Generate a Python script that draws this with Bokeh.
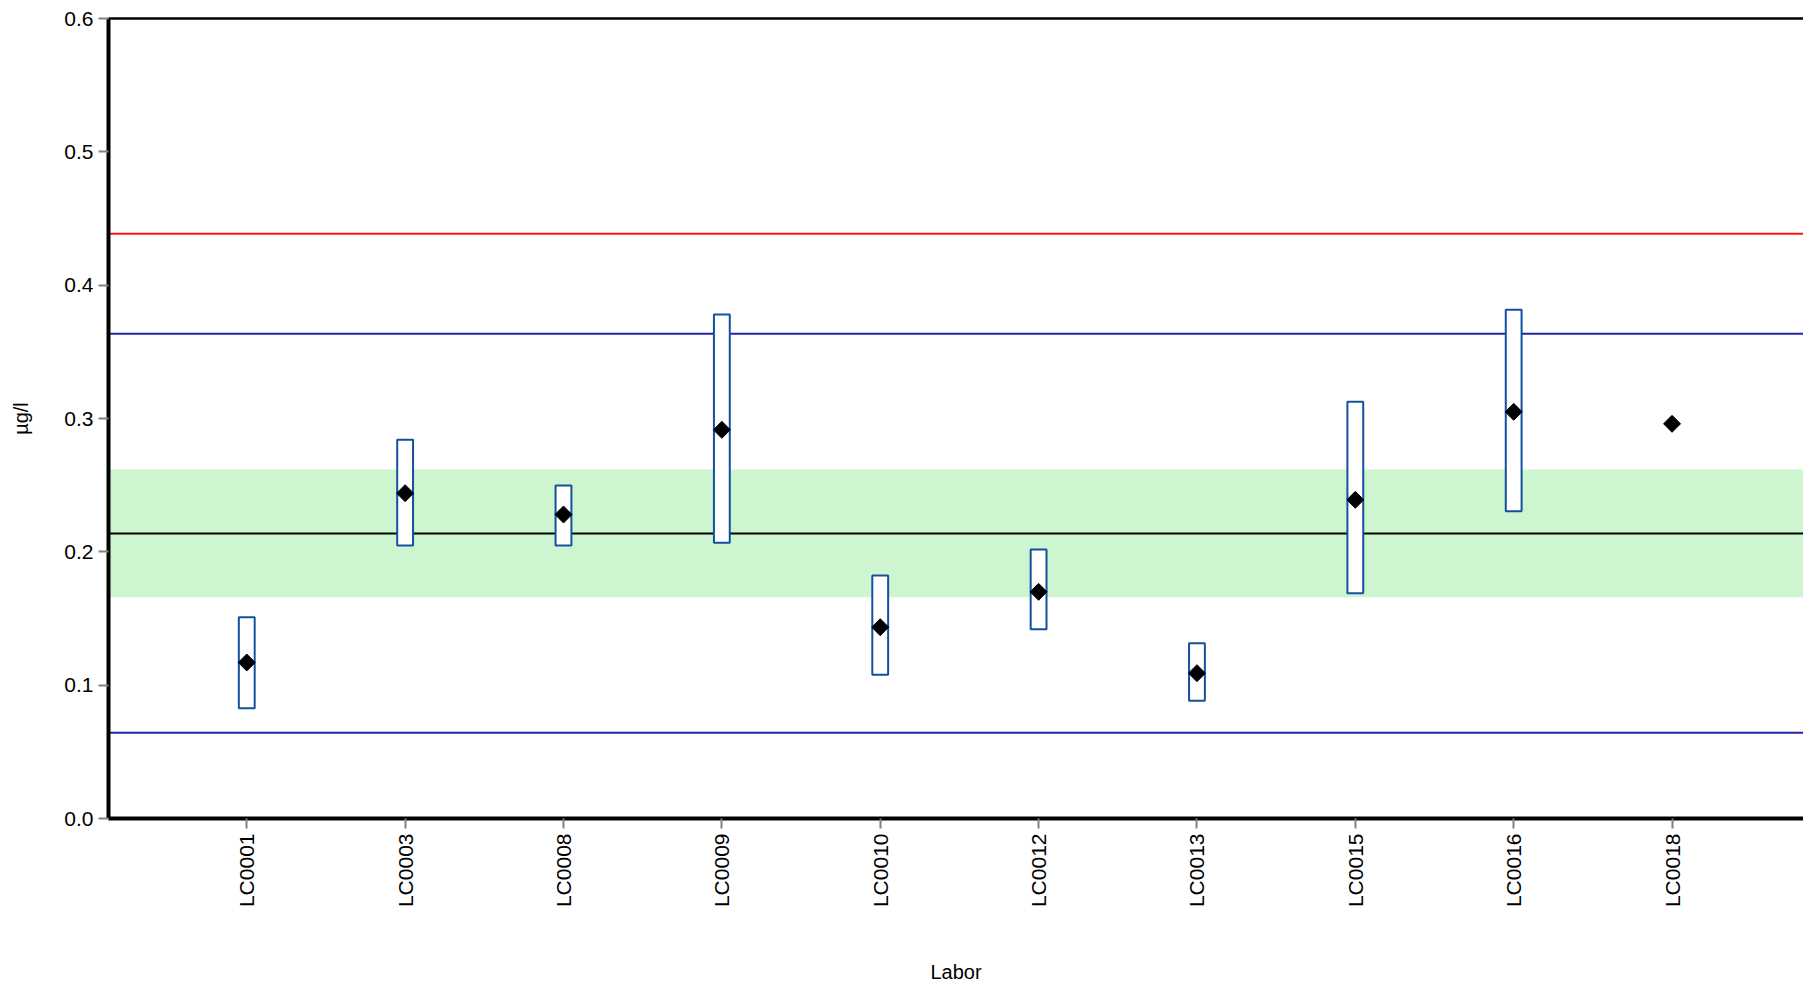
from math import pi, nan
from bokeh.plotting import figure
from bokeh.models import (FixedTicker, Span, BoxAnnotation, LinearAxis, Range1d,
                          ColumnDataSource, PrintfTickFormatter)
from bokeh.embed import file_html
from bokeh.resources import INLINE

# ---- data ----
labs = ["LC0001", "LC0003", "LC0008", "LC0009", "LC0010",
        "LC0012", "LC0013", "LC0015", "LC0016", "LC0018"]
means = [0.117, 0.244, 0.228, 0.2915, 0.1435, 0.170, 0.109, 0.239, 0.305, 0.296]
lower = [0.0827, 0.2048, 0.2048, 0.2068, 0.1078, 0.142, 0.0883, 0.169, 0.2305, nan]
upper = [0.151, 0.284, 0.2498, 0.378, 0.1823, 0.2018, 0.1315, 0.3125, 0.3815, nan]
assigned_value = 0.2137
tolerance_low = 0.166
tolerance_high = 0.2618
limit_low = 0.0643
limit_high = 0.3635
upper_red_limit = 0.4385
y_ticks = [0.0, 0.1, 0.2, 0.3, 0.4, 0.5, 0.6]

FONT = "Liberation Sans"

xpos = list(range(1, len(labs) + 1))
src = ColumnDataSource(dict(x=xpos, lab=labs, mean=means, lo=lower, hi=upper))

p = figure(width=1803, height=986, output_backend="svg", toolbar_location=None,
           x_range=Range1d(0.127, 10.83), y_range=Range1d(0.0, 0.6),
           min_border_left=108, min_border_right=0, min_border_top=18,
           min_border_bottom=168)
p.outline_line_color = None
p.xgrid.visible = False
p.ygrid.visible = False
p.background_fill_color = "white"
p.border_fill_color = "white"

# band and reference lines (under the boxes)
band = BoxAnnotation(bottom=tolerance_low, top=tolerance_high, fill_color="#cdf5d0",
                     fill_alpha=1.0, line_color=None, level="underlay")
p.add_layout(band)
p.add_layout(Span(location=assigned_value, dimension="width", line_color="black",
                  line_width=2, level="underlay"))
for loc in (limit_low, limit_high):
    p.add_layout(Span(location=loc, dimension="width", line_color="#2222a8",
                      line_width=2, level="underlay"))
p.add_layout(Span(location=upper_red_limit, dimension="width", line_color="#ff1010",
                  line_width=2, level="underlay"))

# boxes and means
p.vbar(x="x", bottom="lo", top="hi", width=0.1, source=src, fill_color="white",
       line_color="#1450a0", line_width=2)
p.scatter(x="x", y="mean", source=src, marker="square", angle=pi / 4, size=12,
          fill_color="black", line_color="black")

# y axis
ya = p.yaxis[0]
ya.ticker = FixedTicker(ticks=y_ticks)
ya.formatter = PrintfTickFormatter(format="%.1f")
ya.minor_tick_line_color = None
ya.major_tick_in = 0
ya.major_tick_out = 10
ya.major_tick_line_color = "#808080"
ya.major_tick_line_width = 2
ya.axis_line_color = "black"
ya.axis_line_width = 4
ya.major_label_standoff = 5
ya.major_label_text_font = FONT
ya.major_label_text_font_size = "21px"
ya.major_label_text_color = "black"
ya.axis_label = "µg/l"
ya.axis_label_text_font = FONT
ya.axis_label_text_font_size = "20px"
ya.axis_label_text_font_style = "normal"
ya.axis_label_text_color = "black"
ya.axis_label_standoff = 29

# x axis
xa = p.xaxis[0]
xa.ticker = FixedTicker(ticks=xpos)
xa.major_label_overrides = {x: l for x, l in zip(xpos, labs)}
xa.minor_tick_line_color = None
xa.major_tick_in = 0
xa.major_tick_out = 10
xa.major_tick_line_color = "#808080"
xa.major_tick_line_width = 2
xa.axis_line_color = "black"
xa.axis_line_width = 4
xa.major_label_orientation = pi / 2
xa.major_label_standoff = 5
xa.major_label_text_font = FONT
xa.major_label_text_font_size = "21px"
xa.major_label_text_color = "black"
xa.axis_label = "Labor"
xa.axis_label_text_font = FONT
xa.axis_label_text_font_size = "20px"
xa.axis_label_text_font_style = "normal"
xa.axis_label_text_color = "black"
xa.axis_label_standoff = 51

# top border line
top = LinearAxis(ticker=FixedTicker(ticks=[]), major_tick_out=0, major_tick_in=0,
                 minor_tick_out=0, minor_tick_in=0, major_label_text_font_size="0px",
                 axis_line_color="black", axis_line_width=2.5)
p.add_layout(top, "above")

open("out.html", "w").write(file_html(p, INLINE))
